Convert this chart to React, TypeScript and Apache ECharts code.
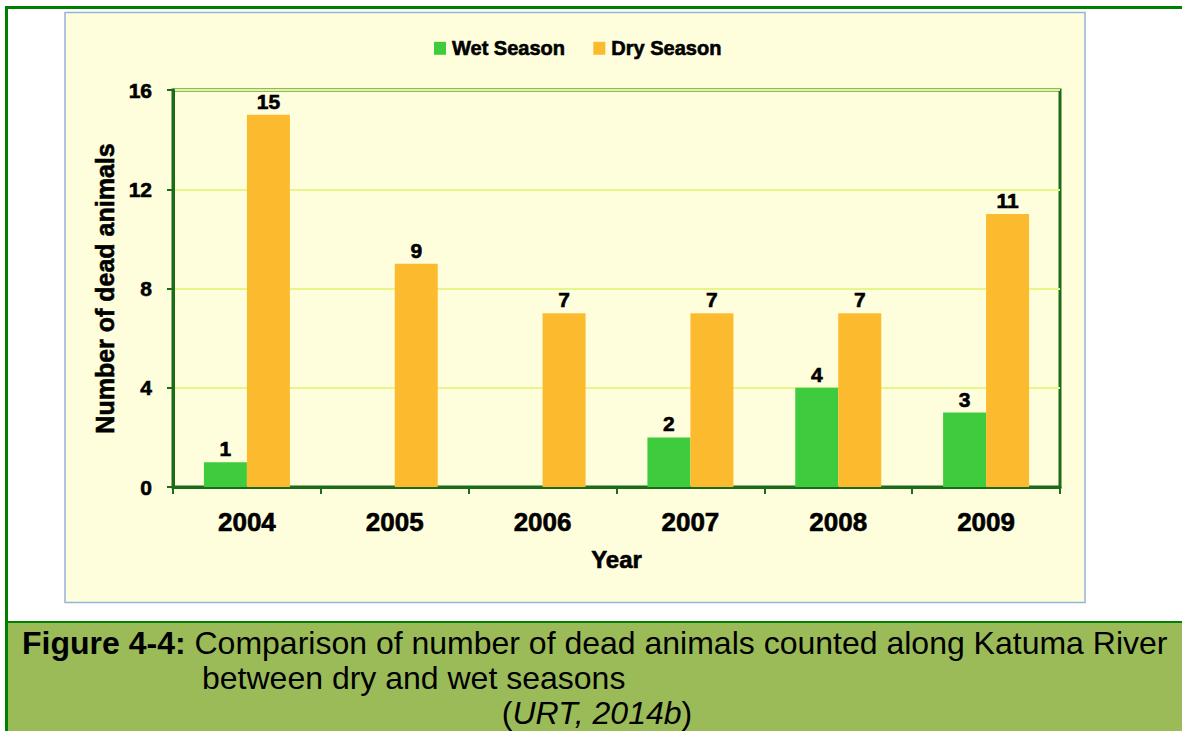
import React, { useEffect, useRef } from "react";
import * as echarts from "echarts";

const years = ["2004", "2005", "2006", "2007", "2008", "2009"];
const wetSeason: (number | null)[] = [1, null, null, 2, 4, 3];
const drySeason: number[] = [15, 9, 7, 7, 7, 11];
const yTicks = { min: 0, max: 16, interval: 4 };
const seriesNames = ["Wet Season", "Dry Season"];
const captionBold = "Figure 4-4:";
const captionLine1 = " Comparison of number of dead animals counted along Katuma River";
const captionLine2 = "between dry and wet seasons";
const captionSource = "URT, 2014b";

const FONT = "'Liberation Sans', Arial, sans-serif";
const AXIS_GREEN = "#1A6B1A";
const heavy = { textBorderColor: "#000", textBorderWidth: 0.6 };

export default function App() {
  const ref = useRef<HTMLDivElement>(null);
  useEffect(() => {
    if (!ref.current) return;
    const chart = echarts.init(ref.current, undefined, { renderer: "svg" });
    const labelStyle = {
      show: true,
      position: "top" as const,
      distance: 3,
      color: "#000",
      fontFamily: FONT,
      fontWeight: "bold" as const,
      fontSize: 21,
      ...heavy,
    };
    chart.setOption({
      animation: false,
      backgroundColor: "#fff",
      textStyle: { fontFamily: FONT },
      graphic: [
        {
          type: "rect",
          z: -10,
          shape: { x: 65, y: 12.5, width: 1020, height: 590 },
          style: { fill: "#FEFEDC", stroke: "#95B3D7", lineWidth: 1.5 },
        },
        {
          type: "rect",
          z: -10,
          shape: { x: 7, y: 622, width: 1176, height: 110 },
          style: { fill: "#9BBB59" },
        },
        {
          type: "line",
          z: 10,
          shape: { x1: 7, y1: 622, x2: 1182, y2: 622 },
          style: { stroke: "#008000", lineWidth: 2 },
        },
        {
          type: "line",
          z: 10,
          shape: { x1: 5, y1: 7.5, x2: 1182, y2: 7.5 },
          style: { stroke: "#008000", lineWidth: 3 },
        },
        {
          type: "line",
          z: 10,
          shape: { x1: 6.5, y1: 6, x2: 6.5, y2: 731 },
          style: { stroke: "#008000", lineWidth: 3 },
        },
        {
          type: "text",
          z: 10,
          x: 22,
          y: 643,
          style: {
            text: `{b|${captionBold}}{r|${captionLine1}}`,
            verticalAlign: "middle",
            align: "left",
            rich: {
              b: { fontFamily: FONT, fontSize: 32, fontWeight: "bold", fill: "#000" },
              r: { fontFamily: FONT, fontSize: 32, fill: "#000" },
            },
          },
        },
        {
          type: "text",
          z: 10,
          x: 202,
          y: 678,
          style: {
            text: captionLine2,
            fontFamily: FONT,
            fontSize: 32,
            fill: "#000",
            verticalAlign: "middle",
            align: "left",
          },
        },
        {
          type: "text",
          z: 10,
          x: 597,
          y: 713,
          style: {
            text: `{r|(}{i|${captionSource}}{r|)}`,
            verticalAlign: "middle",
            align: "center",
            rich: {
              r: { fontFamily: FONT, fontSize: 32, fill: "#000" },
              i: { fontFamily: FONT, fontSize: 32, fontStyle: "italic", fill: "#000" },
            },
          },
        },
      ],
      legend: {
        data: seriesNames,
        left: 429,
        top: 33,
        itemWidth: 12,
        itemHeight: 13,
        itemGap: 28,
        icon: "rect",
        textStyle: {
          fontFamily: FONT,
          fontWeight: "bold",
          fontSize: 20,
          color: "#000",
          padding: [0, 0, 0, 1],
          ...heavy,
        },
      },
      grid: {
        left: 173,
        top: 90,
        right: 122,
        bottom: 244,
        show: true,
        borderColor: AXIS_GREEN,
        borderWidth: 3,
        backgroundColor: "transparent",
      },
      xAxis: {
        type: "category",
        data: years,
        boundaryGap: true,
        name: "Year",
        nameLocation: "middle",
        nameGap: 60,
        nameTextStyle: {
          fontFamily: FONT,
          fontWeight: "bold",
          fontSize: 24,
          color: "#000",
          ...heavy,
        },
        axisLine: { show: true, lineStyle: { color: AXIS_GREEN, width: 3 } },
        axisTick: { show: true, length: 7, alignWithLabel: false, lineStyle: { color: AXIS_GREEN, width: 2 } },
        axisLabel: {
          margin: 22,
          fontFamily: FONT,
          fontWeight: "bold",
          fontSize: 26,
          color: "#000",
          ...heavy,
        },
      },
      yAxis: {
        type: "value",
        min: yTicks.min,
        max: yTicks.max,
        interval: yTicks.interval,
        name: "Number of dead animals",
        nameLocation: "middle",
        nameGap: 46,
        nameTextStyle: {
          fontFamily: FONT,
          fontWeight: "bold",
          fontSize: 25,
          color: "#000",
          ...heavy,
        },
        axisLine: { show: true, lineStyle: { color: AXIS_GREEN, width: 3 } },
        axisTick: { show: true, length: 6, lineStyle: { color: AXIS_GREEN, width: 2 } },
        axisLabel: {
          margin: 21,
          fontFamily: FONT,
          fontWeight: "bold",
          fontSize: 21,
          color: "#000",
          ...heavy,
        },
        splitLine: { show: true, lineStyle: { color: "#E6F78A", width: 2 } },
      },
      series: [
        {
          name: seriesNames[0],
          type: "bar",
          data: wetSeason,
          barWidth: 43,
          barGap: "0%",
          itemStyle: { color: "#3ECC3E" },
          label: labelStyle,
        },
        {
          name: seriesNames[1],
          type: "bar",
          data: drySeason,
          barWidth: 43,
          barGap: "0%",
          itemStyle: { color: "#FCBB2E" },
          label: labelStyle,
        },
      ],
    });
    return () => chart.dispose();
  }, []);
  return (
    <div
      ref={ref}
      style={{ position: "fixed", left: 0, top: 0, width: 1182, height: 731 }}
    />
  );
}
